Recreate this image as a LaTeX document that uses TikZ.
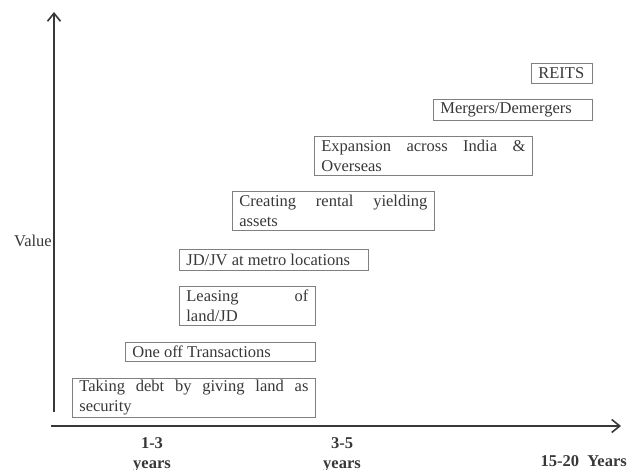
\documentclass[tikz,border=0pt]{standalone}
\usepackage{fontspec}
\setmainfont{Liberation Serif}
\usetikzlibrary{arrows.meta}

\definecolor{ink}{gray}{0.22}
\definecolor{frame}{gray}{0.5}

\begin{document}
\begin{tikzpicture}[x=1pt,y=-1pt,
        stage/.style={draw=frame,line width=0.8pt,anchor=north west,inner xsep=7pt,inner ysep=1pt,
            align=justify,text=ink,font=\fontsize{16.5}{20}\selectfont},
        axis/.style={draw=ink,line width=1.6pt,-{Straight Barb[length=8pt,width=13pt]}},
        period/.style={inner sep=0pt,align=center,text=ink,font=\bfseries\fontsize{16.5}{20}\selectfont}]
        \useasboundingbox (0,0) rectangle (627,470);
        % axes
        \coordinate (yfoot) at (54,412);
        \coordinate (ytop) at (54,12);
        \coordinate (xfoot) at (51,426);
        \coordinate (xend) at (621,426);
        \draw[axis] (yfoot) -- (ytop);
        \draw[axis] (xfoot) -- (xend);
        \node [inner sep=0pt,anchor=east,text=ink,font=\fontsize{16.5}{20}\selectfont] (value) at (52,241) {Value};
        % time periods
        \node [period,anchor=north] (short) at (152,437) {1-3\\years};
        \node [period,anchor=north] (mid) at (342,437) {3-5\\years};
        \node [period,anchor=base east] (long) at (627,467) {15-20~ Years};
        % stages
        \node [stage,text width=229pt,minimum height=39pt] (debt) at (72,378) {Taking debt by giving land as\linebreak security};
        \node [stage,text width=176pt,minimum height=19pt] (oneoff) at (125,342) {One off Transactions};
        \node [stage,text width=122pt,minimum height=39pt] (leasing) at (179,286) {Leasing of\linebreak land/JD};
        \node [stage,text width=175pt,minimum height=21pt] (jdjv) at (179,249) {JD/JV at metro locations};
        \node [stage,text width=188pt,minimum height=39pt] (rental) at (232,191) {Creating rental yielding\linebreak assets};
        \node [stage,text width=204pt,minimum height=39pt] (expansion) at (314,136) {Expansion across India \&\linebreak Overseas};
        \node [stage,text width=145pt,minimum height=21pt] (mergers) at (433,99) {Mergers/Demergers};
        \node [stage,text width=47pt,minimum height=20pt] (reits) at (531,63) {REITS};
\end{tikzpicture}
\end{document}
